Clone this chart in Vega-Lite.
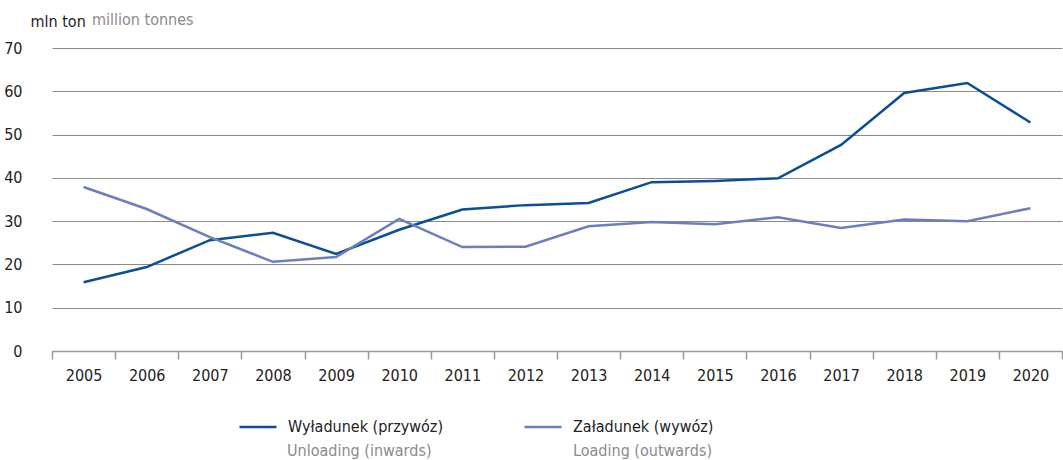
{
  "$schema": "https://vega.github.io/schema/vega-lite/v6.json",
  "width": 1010,
  "height": 303,
  "autosize": "none",
  "padding": {"left": 52, "top": 48, "right": 1, "bottom": 109},
  "background": "white",
  "config": {
    "font": "Liberation Sans Narrow, DejaVu Sans Condensed, Roboto, sans-serif",
    "view": {"stroke": null}
  },
  "title": {
    "text": "million tonnes",
    "anchor": "start",
    "frame": "group",
    "dx": 40,
    "dy": 28,
    "offset": 0,
    "fontSize": 16,
    "fontWeight": "normal",
    "color": "#8a8a8a",
    "baseline": "alphabetic"
  },
  "data": {
    "values": [
      {"year": "2005", "series": "Wyładunek (przywóz)", "en": "Unloading (inwards)", "value": 15.9},
      {"year": "2006", "series": "Wyładunek (przywóz)", "en": "Unloading (inwards)", "value": 19.4},
      {"year": "2007", "series": "Wyładunek (przywóz)", "en": "Unloading (inwards)", "value": 25.6},
      {"year": "2008", "series": "Wyładunek (przywóz)", "en": "Unloading (inwards)", "value": 27.3},
      {"year": "2009", "series": "Wyładunek (przywóz)", "en": "Unloading (inwards)", "value": 22.4},
      {"year": "2010", "series": "Wyładunek (przywóz)", "en": "Unloading (inwards)", "value": 28.0},
      {"year": "2011", "series": "Wyładunek (przywóz)", "en": "Unloading (inwards)", "value": 32.7},
      {"year": "2012", "series": "Wyładunek (przywóz)", "en": "Unloading (inwards)", "value": 33.7},
      {"year": "2013", "series": "Wyładunek (przywóz)", "en": "Unloading (inwards)", "value": 34.2},
      {"year": "2014", "series": "Wyładunek (przywóz)", "en": "Unloading (inwards)", "value": 39.0},
      {"year": "2015", "series": "Wyładunek (przywóz)", "en": "Unloading (inwards)", "value": 39.3},
      {"year": "2016", "series": "Wyładunek (przywóz)", "en": "Unloading (inwards)", "value": 39.9},
      {"year": "2017", "series": "Wyładunek (przywóz)", "en": "Unloading (inwards)", "value": 47.6},
      {"year": "2018", "series": "Wyładunek (przywóz)", "en": "Unloading (inwards)", "value": 59.6},
      {"year": "2019", "series": "Wyładunek (przywóz)", "en": "Unloading (inwards)", "value": 61.9},
      {"year": "2020", "series": "Wyładunek (przywóz)", "en": "Unloading (inwards)", "value": 52.8},
      {"year": "2005", "series": "Załadunek (wywóz)", "en": "Loading (outwards)", "value": 37.9},
      {"year": "2006", "series": "Załadunek (wywóz)", "en": "Loading (outwards)", "value": 32.8},
      {"year": "2007", "series": "Załadunek (wywóz)", "en": "Loading (outwards)", "value": 26.3},
      {"year": "2008", "series": "Załadunek (wywóz)", "en": "Loading (outwards)", "value": 20.6},
      {"year": "2009", "series": "Załadunek (wywóz)", "en": "Loading (outwards)", "value": 21.7},
      {"year": "2010", "series": "Załadunek (wywóz)", "en": "Loading (outwards)", "value": 30.5},
      {"year": "2011", "series": "Załadunek (wywóz)", "en": "Loading (outwards)", "value": 24.0},
      {"year": "2012", "series": "Załadunek (wywóz)", "en": "Loading (outwards)", "value": 24.1},
      {"year": "2013", "series": "Załadunek (wywóz)", "en": "Loading (outwards)", "value": 28.8},
      {"year": "2014", "series": "Załadunek (wywóz)", "en": "Loading (outwards)", "value": 29.8},
      {"year": "2015", "series": "Załadunek (wywóz)", "en": "Loading (outwards)", "value": 29.3},
      {"year": "2016", "series": "Załadunek (wywóz)", "en": "Loading (outwards)", "value": 30.9},
      {"year": "2017", "series": "Załadunek (wywóz)", "en": "Loading (outwards)", "value": 28.4},
      {"year": "2018", "series": "Załadunek (wywóz)", "en": "Loading (outwards)", "value": 30.4},
      {"year": "2019", "series": "Załadunek (wywóz)", "en": "Loading (outwards)", "value": 30.0},
      {"year": "2020", "series": "Załadunek (wywóz)", "en": "Loading (outwards)", "value": 33.0}
    ]
  },
  "mark": {"type": "line", "strokeWidth": 2.5},
  "encoding": {
    "x": {
      "field": "year",
      "type": "ordinal",
      "scale": {"type": "band", "paddingInner": 0, "paddingOuter": 0},
      "axis": {
        "title": null,
        "labelAngle": 0,
        "tickBand": "extent",
        "domainColor": "#999999",
        "domainWidth": 1.5,
        "tickColor": "#999999",
        "tickWidth": 1.5,
        "tickSize": 8,
        "labelFontSize": 16,
        "labelColor": "#222222",
        "labelPadding": 8,
        "grid": false
      }
    },
    "y": {
      "field": "value",
      "type": "quantitative",
      "scale": {"domain": [0, 70], "nice": false},
      "axis": {
        "values": [0, 10, 20, 30, 40, 50, 60, 70],
        "title": "mln ton",
        "titleAngle": 0,
        "titleAlign": "left",
        "titleBaseline": "alphabetic",
        "titleX": -22,
        "titleY": -22,
        "titleFontSize": 16,
        "titleFontWeight": "normal",
        "titleColor": "#222222",
        "domain": false,
        "ticks": false,
        "labelPadding": 30,
        "labelFontSize": 16,
        "labelColor": "#222222",
        "gridColor": "#8a8a8a",
        "gridWidth": 1
      }
    },
    "color": {
      "field": "series",
      "type": "nominal",
      "scale": {"domain": ["Wyładunek (przywóz)", "Załadunek (wywóz)"], "range": ["#0b4e93", "#6b7fbe"]},
      "legend": {
        "title": null,
        "orient": "none",
        "legendX": 186,
        "legendY": 359,
        "direction": "horizontal",
        "columns": 2,
        "columnPadding": 75,
        "symbolType": "stroke",
        "symbolSize": 1369,
        "symbolStrokeWidth": 2.5,
        "labelFontSize": 16,
        "labelColor": "#222222",
        "labelOffset": 10
      }
    },
    "opacity": {
      "field": "en",
      "type": "nominal",
      "scale": {"domain": ["Unloading (inwards)", "Loading (outwards)"], "range": [1, 1]},
      "legend": {
        "title": null,
        "orient": "none",
        "legendX": 186,
        "legendY": 383,
        "direction": "horizontal",
        "columns": 2,
        "columnPadding": 90,
        "symbolType": "stroke",
        "symbolSize": 1369,
        "symbolOpacity": 0,
        "symbolStrokeColor": "transparent",
        "labelFontSize": 16,
        "labelColor": "#8a8a8a",
        "labelOffset": 10
      }
    }
  }
}
